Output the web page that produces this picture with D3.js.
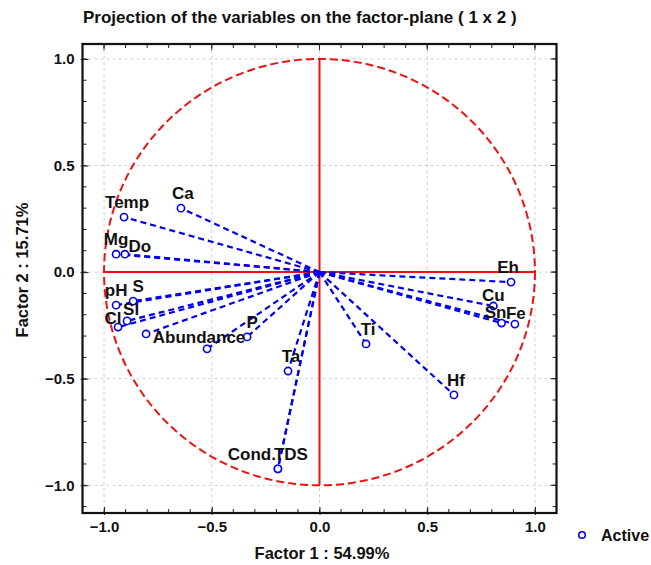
<!DOCTYPE html>
<html>
<head>
<meta charset="utf-8">
<script src="https://cdn.jsdelivr.net/npm/d3@7"></script>
<style>
  body { margin: 0; background: #fff; }
  text { font-family: "Liberation Sans", Arial, sans-serif; font-weight: bold; fill: #111; }
</style>
</head>
<body>
<div id="chart"></div>
<script>
// Factor loadings
const variables = ["Temp", "Ca", "Mg", "Do", "pH", "S", "Sl", "Cl", "", "Abundance", "P", "Ta", "Cond.", "TDS", "Ti", "Hf", "Eh", "Cu", "Sn", "Fe"];
const factor1 = [-0.907, -0.643, -0.944, -0.903, -0.944, -0.865, -0.893, -0.935, -0.805, -0.522, -0.336, -0.146, -0.193, -0.193, 0.216, 0.624, 0.889, 0.807, 0.845, 0.907];
const factor2 = [0.258, 0.300, 0.084, 0.084, -0.155, -0.136, -0.229, -0.258, -0.290, -0.360, -0.304, -0.464, -0.923, -0.923, -0.337, -0.576, -0.047, -0.159, -0.239, -0.244];
const majorTicks = [-1.0, -0.5, 0.0, 0.5, 1.0];

// label shifts (px) so overlapping names stay readable, like the original
const labelNudge = {
  "Temp": [3, 0], "Ca": [2, 0], "Do": [15, 7], "S": [5, 0], "Sl": [4, 3], "Cl": [-5, 6],
  "Abundance": [-8, 3], "P": [5, 0], "Ta": [3, 0], "Cond.": [-26, 0], "TDS": [13, 0],
  "Ti": [2, 0], "Hf": [2, 0], "Eh": [-3, 0], "Cu": [0, 4], "Sn": [-6, 4], "Fe": [1, 4]
};

const data = variables.map((name, i) => ({name: name, f1: factor1[i], f2: factor2[i]}));

const svgWidth = 651, svgHeight = 565;
const svg = d3.select("#chart").append("svg")
  .attr("width", svgWidth)
  .attr("height", svgHeight);

// plot frame
const frame = {left: 82.5, right: 556.5, top: 44, bottom: 513};
const x = d3.scaleLinear().domain([-1.1, 1.1]).range([frame.left, frame.right]);
const y = d3.scaleLinear().domain([-1.13, 1.07]).range([frame.bottom, frame.top]);

// title
svg.append("text")
  .attr("x", 83).attr("y", 23)
  .style("font-size", "17px")
  .text("Projection of the variables on the factor-plane ( 1 x 2 )");

// grid
const grid = svg.append("g").attr("stroke", "#cfcfcf").attr("stroke-dasharray", "3,3").attr("stroke-width", 1);
grid.selectAll(".gx").data(majorTicks).enter().append("line")
  .attr("x1", d => x(d)).attr("x2", d => x(d))
  .attr("y1", frame.top).attr("y2", frame.bottom);
grid.selectAll(".gy").data(majorTicks).enter().append("line")
  .attr("y1", d => y(d)).attr("y2", d => y(d))
  .attr("x1", frame.left).attr("x2", frame.right);

// unit circle and red axes
svg.append("ellipse")
  .attr("cx", x(0)).attr("cy", y(0))
  .attr("rx", x(1) - x(0)).attr("ry", y(0) - y(1))
  .attr("fill", "none").attr("stroke", "#ee1111")
  .attr("stroke-width", 2).attr("stroke-dasharray", "8,4");
svg.append("line")
  .attr("x1", x(-1)).attr("x2", x(1)).attr("y1", y(0)).attr("y2", y(0))
  .attr("stroke", "#ee1111").attr("stroke-width", 2);
svg.append("line")
  .attr("x1", x(0)).attr("x2", x(0)).attr("y1", y(-1)).attr("y2", y(1))
  .attr("stroke", "#ee1111").attr("stroke-width", 2);

// vectors from the origin
svg.append("g").selectAll("line").data(data).enter().append("line")
  .attr("x1", x(0)).attr("y1", y(0))
  .attr("x2", d => x(d.f1)).attr("y2", d => y(d.f2))
  .attr("stroke", "#0000ee").attr("stroke-width", 2.2)
  .attr("stroke-dasharray", "6,4");

svg.append("g").selectAll("circle").data(data).enter().append("circle")
  .attr("cx", d => x(d.f1)).attr("cy", d => y(d.f2))
  .attr("r", 3.6)
  .attr("fill", "#fff").attr("stroke", "#0000ee").attr("stroke-width", 1.6);

svg.append("g").selectAll("text").data(data).enter().append("text")
  .attr("x", d => x(d.f1) + (labelNudge[d.name] || [0, 0])[0])
  .attr("y", d => y(d.f2) - 9 + (labelNudge[d.name] || [0, 0])[1])
  .attr("text-anchor", "middle")
  .style("font-size", "17px")
  .text(d => d.name);

// axes: labels on major ticks, minor ticks every 0.1 pointing inward
const xAxis = svg.append("g").attr("transform", "translate(0," + frame.bottom + ")")
  .call(d3.axisBottom(x).tickValues(majorTicks).tickFormat(d3.format(".1f")).tickSize(-6).tickPadding(8));
const yAxis = svg.append("g").attr("transform", "translate(" + frame.left + ",0)")
  .call(d3.axisLeft(y).tickValues(majorTicks).tickFormat(d3.format(".1f")).tickSize(-6).tickPadding(8));
[xAxis, yAxis].forEach(a => {
  a.select(".domain").remove();
  a.selectAll("text").style("font-size", "15px").style("font-family", "'Liberation Sans', Arial, sans-serif").attr("fill", "#111");
  a.selectAll(".tick line").attr("stroke", "#222");
});
// small outward stubs on major ticks
xAxis.selectAll(".tick").append("line").attr("y1", 0).attr("y2", 2).attr("stroke", "#222");
yAxis.selectAll(".tick").append("line").attr("x1", 0).attr("x2", -2).attr("stroke", "#222");

const minor = d3.range(-11, 12).map(d => d / 10);
const minorY = d3.range(-11, 11).map(d => d / 10);
const ticks = svg.append("g").attr("stroke", "#222").attr("stroke-width", 1);
ticks.selectAll(".tb").data(minor).enter().append("line")
  .attr("x1", d => x(d)).attr("x2", d => x(d)).attr("y1", frame.bottom).attr("y2", frame.bottom - 4);
ticks.selectAll(".tt").data(minor).enter().append("line")
  .attr("x1", d => x(d)).attr("x2", d => x(d)).attr("y1", frame.top).attr("y2", frame.top + 4);
ticks.selectAll(".tl").data(minorY).enter().append("line")
  .attr("y1", d => y(d)).attr("y2", d => y(d)).attr("x1", frame.left).attr("x2", frame.left + 4);
ticks.selectAll(".tr").data(minorY).enter().append("line")
  .attr("y1", d => y(d)).attr("y2", d => y(d)).attr("x1", frame.right).attr("x2", frame.right - 4);
ticks.selectAll(".tT").data(majorTicks).enter().append("line")
  .attr("x1", d => x(d)).attr("x2", d => x(d)).attr("y1", frame.top).attr("y2", frame.top + 6);
ticks.selectAll(".tR").data(majorTicks).enter().append("line")
  .attr("y1", d => y(d)).attr("y2", d => y(d)).attr("x1", frame.right).attr("x2", frame.right - 6);

// frame
svg.append("rect")
  .attr("x", frame.left).attr("y", frame.top)
  .attr("width", frame.right - frame.left).attr("height", frame.bottom - frame.top)
  .attr("fill", "none").attr("stroke", "#111").attr("stroke-width", 2.2);

// axis titles
svg.append("text")
  .attr("x", 322).attr("y", 559)
  .attr("text-anchor", "middle")
  .style("font-size", "16.5px")
  .text("Factor 1 : 54.99%");
svg.append("text")
  .attr("transform", "translate(28,270) rotate(-90)")
  .attr("text-anchor", "middle")
  .style("font-size", "16.5px")
  .text("Factor 2 : 15.71%");

// legend
svg.append("circle")
  .attr("cx", 582).attr("cy", 535).attr("r", 3.3)
  .attr("fill", "#fff").attr("stroke", "#0000ee").attr("stroke-width", 1.6);
svg.append("text")
  .attr("x", 601).attr("y", 541)
  .style("font-size", "16px")
  .text("Active");
</script>
</body>
</html>
